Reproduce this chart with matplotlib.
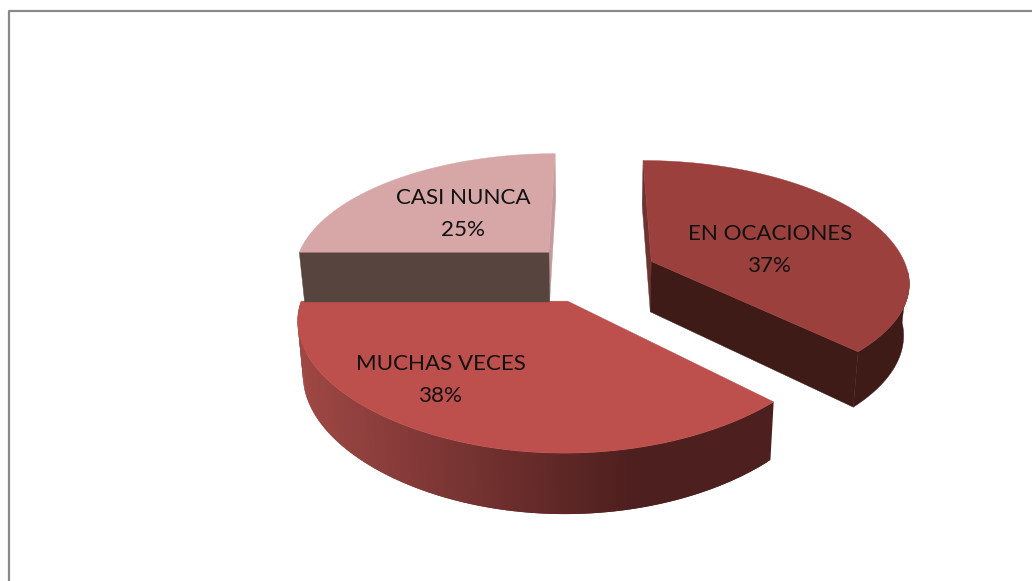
import numpy as np
import matplotlib
matplotlib.use("Agg")
import matplotlib.pyplot as plt
from matplotlib.colors import to_rgb

categories = ["EN OCACIONES", "MUCHAS VECES", "CASI NUNCA"]
values = [37.4, 37.6, 25.0]
pct_labels = ["37%", "38%", "25%"]
top_colors = ["#9C403D", "#BD4F4C", "#D7A7A7"]
wall_colors = ["#3F1B18", "#4D1F1E", "#57443F"]

# projection of the tilted pie onto the picture
CX, CY, YV = 593.0, 273.0, -450.0
A, EXPLODE, DEPTH, SHRINK = 257.0, 0.25, 51.0, 0.982
KR_BACK, KR_FRONT, XBEND = 0.168, 0.162, 1.2


def project(u, v, low=False):
    u, v = np.asarray(u, float), np.asarray(v, float)
    s = 1.0 / (1.0 + np.where(v > 0, KR_BACK, KR_FRONT) * v)
    x = A * u * (s - XBEND * np.maximum(s - 1, 0) ** 2)
    y = YV + (CY - YV) * s
    if low:
        x = x * SHRINK
        y = y + DEPTH * s ** 0.8
    return CX + x, y


fig = plt.figure(figsize=(10.32, 5.81), dpi=100)
ax = fig.add_axes([0, 0, 1, 1])
ax.set_xlim(0, 1032)
ax.set_ylim(581, 0)
ax.axis("off")
ax.plot([8.5, 8.5, 1032], [581, 10.5, 10.5], color="#8A8A8A", lw=1.6, solid_capstyle="butt")

edges = np.concatenate([[0], np.cumsum(values)]) / np.sum(values) * 2 * np.pi
wedges = []
for i in range(len(values)):
    a0, a1 = edges[i], edges[i + 1]
    mid = (a0 + a1) / 2
    u0, v0 = EXPLODE * np.sin(mid), EXPLODE * np.cos(mid)
    th = np.linspace(a0, a1, 160)
    wedges.append((u0 + np.sin(th), v0 + np.cos(th), u0, v0))


def draw_radial(i, end, color):
    uu, vv, u0, v0 = wedges[i]
    xs = [project(u0, v0), project(uu[end], vv[end]),
          project(uu[end], vv[end], True), project(u0, v0, True)]
    ax.fill(*zip(*xs), color=color, lw=0.3, zorder=2 + i)


def lerp(c1, c2, t):
    return tuple((1 - t) * a + t * b for a, b in zip(to_rgb(c1), to_rgb(c2)))


def draw_arc_solid(i):
    uu, vv, _, _ = wedges[i]
    keep = vv <= 0.02
    xt, yt = project(uu[keep], vv[keep])
    xb, yb = project(uu[keep], vv[keep], True)
    ax.fill(np.r_[xt, xb[::-1]], np.r_[yt, yb[::-1]], color=wall_colors[i], lw=0.3, zorder=2 + i)


def draw_arc_shaded(i):
    # painted from right to left, each band reaching under the next one
    uu, vv, _, _ = wedges[i]
    n = len(uu)
    for j in range(n - 2):
        a, b = j, j + 2
        p = [project(uu[a], vv[a]), project(uu[b], vv[b]),
             project(uu[b], vv[b], True), project(uu[a], vv[a], True)]
        t = np.clip((float(p[0][0]) - 305) / 330, 0, 1)
        ax.fill(*zip(*p), color=lerp("#9E4744", wall_colors[i], t), lw=0, zorder=2 + i)


def draw_top(i):
    uu, vv, u0, v0 = wedges[i]
    xs, ys = project(np.r_[u0, uu], np.r_[v0, vv])
    ax.fill(xs, ys, color=top_colors[i], lw=0.3, zorder=2.5 + i)


# far slices first, the front slice last
draw_radial(2, -1, "#C49A9A")
draw_radial(2, 0, wall_colors[2])
draw_top(2)
draw_radial(0, 0, "#6E3330")
draw_radial(0, -1, wall_colors[0])
draw_arc_solid(0)
draw_top(0)
draw_arc_shaded(1)
draw_top(1)

kw = dict(ha="center", va="center", family="Lato", fontsize=16.15, color="#111111",
          linespacing=1.72, zorder=10)
ax.text(770, 250, categories[0] + "\n" + pct_labels[0], **kw)
ax.text(441, 380, categories[1] + "\n" + pct_labels[1], **kw)
ax.text(463, 214, categories[2] + "\n" + pct_labels[2], **kw)

fig.savefig("out.png", dpi=100, facecolor="white")
